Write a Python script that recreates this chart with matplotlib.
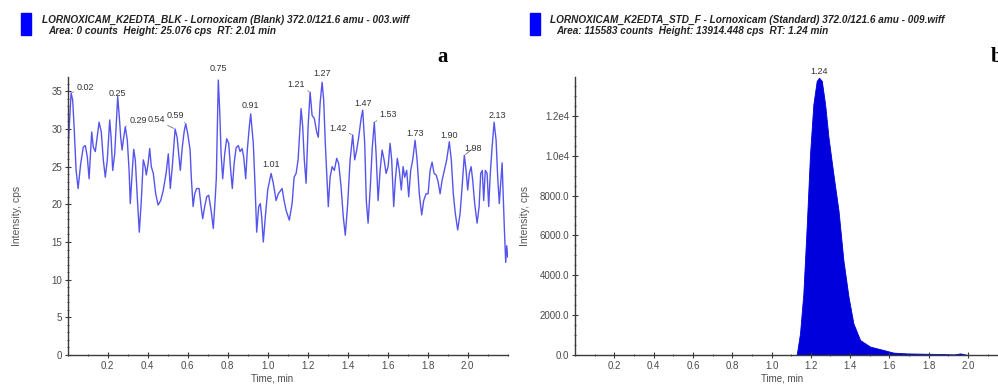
import matplotlib
matplotlib.use("Agg")
import matplotlib.pyplot as plt
import numpy as np
from matplotlib.ticker import MultipleLocator, FixedLocator, FixedFormatter

# ---------------- data ----------------
blank_time = [0.000, 0.012, 0.017, 0.025, 0.032, 0.042, 0.052, 0.065, 0.078, 0.088, 0.098, 0.107, 0.120, 0.128,
              0.138, 0.147, 0.157, 0.168, 0.178, 0.188, 0.198, 0.210, 0.217, 0.225, 0.235, 0.242, 0.250, 0.258,
              0.265, 0.272, 0.278, 0.288, 0.298, 0.307, 0.313, 0.322, 0.330, 0.338, 0.347, 0.358, 0.368, 0.378,
              0.387, 0.393, 0.402, 0.410, 0.418, 0.428, 0.440, 0.452, 0.465, 0.478, 0.492, 0.503, 0.513, 0.523,
              0.537, 0.547, 0.555, 0.563, 0.573, 0.582, 0.590, 0.600, 0.612, 0.618, 0.627, 0.635, 0.645, 0.657,
              0.667, 0.675, 0.685, 0.695, 0.705, 0.717, 0.728, 0.737, 0.743, 0.748, 0.753, 0.760, 0.767, 0.775,
              0.785, 0.795, 0.805, 0.815, 0.823, 0.832, 0.842, 0.853, 0.862, 0.872, 0.880, 0.890, 0.898, 0.908,
              0.915, 0.928, 0.937, 0.945, 0.955, 0.963, 0.970, 0.978, 0.988, 1.000, 1.017, 1.028, 1.042, 1.053,
              1.072, 1.082, 1.092, 1.108, 1.122, 1.132, 1.142, 1.152, 1.167, 1.175, 1.183, 1.192, 1.202, 1.212,
              1.222, 1.233, 1.245, 1.253, 1.262, 1.272, 1.280, 1.288, 1.297, 1.303, 1.312, 1.322, 1.333, 1.345,
              1.355, 1.367, 1.378, 1.388, 1.400, 1.412, 1.425, 1.435, 1.445, 1.455, 1.467, 1.475, 1.485, 1.493,
              1.502, 1.513, 1.523, 1.533, 1.542, 1.552, 1.562, 1.572, 1.582, 1.592, 1.602, 1.612, 1.620, 1.630,
              1.638, 1.648, 1.658, 1.668, 1.677, 1.685, 1.695, 1.705, 1.715, 1.725, 1.737, 1.747, 1.758, 1.770,
              1.780, 1.792, 1.802, 1.812, 1.822, 1.832, 1.842, 1.852, 1.862, 1.872, 1.883, 1.895, 1.908, 1.918,
              1.928, 1.938, 1.950, 1.962, 1.972, 1.983, 1.992, 2.000, 2.008, 2.017, 2.025, 2.035, 2.047, 2.057,
              2.065, 2.073, 2.080, 2.088, 2.097, 2.105, 2.113, 2.122, 2.132, 2.142, 2.150, 2.158, 2.172, 2.183,
              2.190, 2.195, 2.200]
blank_cps = [26.5, 32.5, 34.8, 33.8, 30.3, 24.5, 22.1, 25.4, 27.6, 27.8, 26.3, 23.4, 29.6, 27.6,
             27.0, 28.9, 30.9, 29.6, 25.9, 23.6, 25.9, 31.2, 28.9, 24.5, 26.7, 30.3, 34.3, 31.6,
             28.9, 27.2, 28.5, 30.3, 28.5, 24.5, 20.1, 24.1, 27.3, 25.9, 21.4, 16.3, 20.5, 25.9,
             25.0, 23.9, 25.4, 27.4, 25.0, 24.1, 21.4, 19.9, 20.5, 21.9, 24.1, 26.7, 22.1, 25.0,
             30.0, 28.9, 26.7, 24.5, 27.6, 29.6, 30.7, 29.4, 27.2, 23.6, 19.7, 21.4, 22.1, 22.1,
             19.7, 18.1, 19.7, 21.0, 21.2, 19.2, 16.8, 20.5, 23.4, 30.3, 36.5, 32.5, 26.7, 23.4,
             26.7, 28.7, 28.1, 24.5, 22.1, 25.4, 27.5, 27.8, 27.0, 27.4, 26.3, 23.4, 27.2, 30.3,
             32.0, 28.1, 22.3, 16.3, 19.7, 20.1, 18.3, 15.0, 18.3, 21.9, 24.1, 22.8, 20.5, 21.4,
             22.1, 20.5, 19.2, 17.9, 20.1, 23.6, 24.1, 25.9, 32.7, 30.3, 25.9, 22.8, 30.3, 34.9,
             31.8, 31.4, 29.6, 28.9, 33.4, 36.2, 33.8, 28.1, 23.2, 19.7, 23.6, 25.0, 24.5, 26.1,
             25.4, 22.3, 18.3, 15.9, 20.1, 25.9, 29.2, 25.9, 27.2, 28.9, 31.4, 32.5, 28.1, 20.5,
             17.5, 22.3, 27.6, 30.9, 26.7, 20.5, 24.5, 27.2, 25.9, 24.1, 25.0, 28.1, 25.9, 19.7,
             23.2, 26.1, 24.5, 21.9, 25.0, 23.6, 24.5, 21.0, 24.5, 25.9, 28.5, 25.9, 21.4, 18.6,
             20.5, 21.4, 21.4, 24.5, 25.6, 24.1, 23.9, 23.0, 21.4, 23.2, 24.5, 25.9, 28.3, 25.9,
             21.4, 18.8, 16.6, 18.8, 22.3, 26.5, 24.5, 21.9, 24.1, 25.0, 23.2, 20.1, 17.5, 19.7,
             24.1, 24.5, 20.5, 24.5, 24.1, 19.7, 24.1, 27.6, 30.9, 28.5, 23.6, 20.1, 25.5, 17.0,
             12.3, 14.5, 13.0]
blank_peak_times = [0.02, 0.25, 0.29, 0.54, 0.59, 0.75, 0.91, 1.01, 1.21, 1.27, 1.42, 1.47, 1.53,
                    1.73, 1.90, 1.98, 2.13]

std_time = [0.00, 1.128, 1.145, 1.162, 1.179, 1.196, 1.213, 1.230, 1.242, 1.256, 1.273, 1.290, 1.315,
            1.341, 1.366, 1.392, 1.417, 1.451, 1.502, 1.570, 1.620, 1.688, 1.858, 1.930, 1.960, 2.000, 2.200]
std_cps = [0, 0, 1080, 3080, 6420, 10080, 12580, 13750, 13914, 13750, 12580, 10920, 9080,
           7250, 4750, 2920, 1580, 750, 420, 250, 120, 80, 50, 30, 80, 0, 0]
std_peak_times = [1.24]

header_a = ["LORNOXICAM_K2EDTA_BLK - Lornoxicam (Blank) 372.0/121.6 amu - 003.wiff",
            "Area: 0 counts  Height: 25.076 cps  RT: 2.01 min"]
header_b = ["LORNOXICAM_K2EDTA_STD_F - Lornoxicam (Standard) 372.0/121.6 amu - 009.wiff",
            "Area: 115583 counts  Height: 13914.448 cps  RT: 1.24 min"]
xticks = [0.2, 0.4, 0.6, 0.8, 1.0, 1.2, 1.4, 1.6, 1.8, 2.0]
yticks_a = [0, 5, 10, 15, 20, 25, 30, 35]
yticks_b = [0, 2000, 4000, 6000, 8000, 10000, 12000]
yticklabels_b = ["0.0", "2000.0", "4000.0", "6000.0", "8000.0", "1.0e4", "1.2e4"]

# ---------------- figure ----------------
W, H = 998, 385
fig = plt.figure(figsize=(W / 100, H / 100), dpi=100)
plt.rcParams['font.family'] = ['Liberation Sans', 'DejaVu Sans']

def px_axes(x0, x1, y0, y1):
    return fig.add_axes([x0 / W, 1 - y1 / H, (x1 - x0) / W, (y1 - y0) / H])

axc = '#3a3a3a'
tkc = '#4a4a4a'

def style(ax, xlab_x):
    for s in ['top', 'right']:
        ax.spines[s].set_visible(False)
    for s in ['left', 'bottom']:
        ax.spines[s].set_color(axc)
        ax.spines[s].set_linewidth(1.0)
    ax.tick_params(which='major', direction='inout', length=4, width=0.8, color=axc,
                   labelsize=7, labelcolor=tkc, pad=2)
    ax.tick_params(which='minor', direction='inout', length=2, width=0.6, color=axc)
    ax.xaxis.set_major_locator(FixedLocator(xticks))
    ax.xaxis.set_minor_locator(MultipleLocator(0.1))
    ax.set_xlabel("Time, min", fontsize=7, color=tkc)
    ax.xaxis.set_label_coords(xlab_x, -0.065)
    ax.set_ylabel("Intensity, cps", fontsize=7.5, color='#555555')

# panel a
axa = px_axes(67.7, 507.7, 77, 355)
axa.plot(blank_time, blank_cps, color='#5555ee', lw=1.0)
axa.set_xlim(0, 2.2)
axa.set_ylim(0, 36.9)
style(axa, 0.464)
axa.yaxis.set_major_locator(FixedLocator(yticks_a))
axa.yaxis.set_minor_locator(MultipleLocator(1))
axa.yaxis.set_label_coords(-0.104, 0.5)

offs_a = [(14, 5), (0, 3), (13, 6.5), (-19, 9), (-10, 8.5), (0, 11.5), (0, 8), (0, 9), (-14, 8),
          (0, 9), (-15, 7), (0, 7), (14, 8), (0, 7), (0, 6), (9, 7), (3, 7)]
bt = np.array(blank_time)
bc = np.array(blank_cps)
for pt, off in zip(blank_peak_times, offs_a):
    m = np.abs(bt - pt) <= 0.012
    idx = np.where(m)[0][np.argmax(bc[m])]
    xy = (bt[idx], bc[idx])
    leader = abs(off[0]) > 5
    axa.annotate(f"{pt:.2f}", xy=xy, xytext=off, textcoords='offset pixels',
                 ha='center', va='center', fontsize=6.5, color='#333333',
                 arrowprops=dict(arrowstyle='-', lw=0.5, color='#555555', shrinkA=9, shrinkB=1) if leader else None,
                 annotation_clip=False)

# panel b
axb = px_axes(575, 575 + 196.5 * 2.2, 77, 355)
axb.fill_between(std_time, std_cps, 0, color='#0000dd', lw=0.6, edgecolor='#0000dd')
axb.set_xlim(0, 2.2)
axb.set_ylim(0, 13950)
style(axb, 0.478)
axb.yaxis.set_major_locator(FixedLocator(yticks_b))
axb.yaxis.set_major_formatter(FixedFormatter(yticklabels_b))
axb.yaxis.set_minor_locator(MultipleLocator(500))
axb.yaxis.set_label_coords(-0.104, 0.5)
for pt in std_peak_times:
    i = int(np.argmin(np.abs(np.array(std_time) - pt)))
    axb.annotate(f"{pt:.2f}", xy=(pt, std_cps[i]), xytext=(0, 6), textcoords='offset pixels',
                 ha='center', va='center', fontsize=6.5, color='#333333', annotation_clip=False)

# headers
hdr_font = ['Liberation Sans', 'DejaVu Sans']
for (sx, tx, lines) in [(21, 42, header_a), (530, 550, header_b)]:
    fig.patches.append(plt.Rectangle((sx / W, 1 - 35 / H), 10 / W, 22 / H, transform=fig.transFigure,
                                     color='#0000ff', zorder=5))
    fig.text(tx / W, 1 - 20 / H, lines[0], fontsize=7.2, fontweight='bold', fontstyle='italic',
             family=hdr_font, va='center', ha='left', color='#222222')
    fig.text((tx + 6) / W, 1 - 31 / H, lines[1], fontsize=7.2, fontweight='bold', fontstyle='italic',
             family=hdr_font, va='center', ha='left', color='#222222')

fig.text(437 / W, 1 - 57 / H, "a", fontsize=15, fontweight='bold', family=['Liberation Serif', 'DejaVu Serif'],
         va='center', ha='left', color='black')
fig.text(991 / W, 1 - 57 / H, "b", fontsize=15, fontweight='bold', family=['Liberation Serif', 'DejaVu Serif'],
         va='center', ha='left', color='black')

fig.savefig("out.png", dpi=100)
